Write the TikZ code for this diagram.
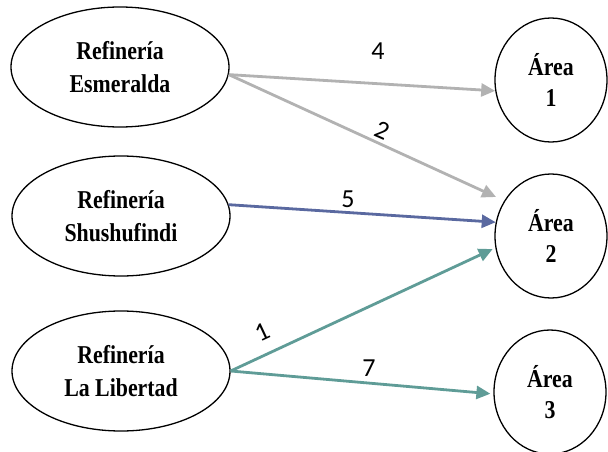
\documentclass[tikz,border=0pt]{standalone}
\usepackage{fontspec}
\setmainfont{Liberation Serif}[FakeStretch=0.85]
\newfontfamily\lblfont{Carlito}
\usetikzlibrary{shapes.geometric,arrows.meta}
\definecolor{cgray}{HTML}{B2B2B2}
\definecolor{cblue}{HTML}{5A69A0}
\definecolor{cteal}{HTML}{5F9C97}
\begin{document}
\begin{tikzpicture}[x=1pt,y=-1pt,
  refi/.style={draw=black, line width=1.3pt, ellipse, minimum width=218pt, minimum height=120pt, inner sep=0pt, align=center, font=\bfseries\fontsize{25.7}{33}\selectfont},
  area/.style={draw=black, line width=1.3pt, ellipse, minimum width=112pt, minimum height=124pt, inner sep=0pt, align=center, font=\bfseries\fontsize{25.7}{31}\selectfont},
  conn/.style={line width=2.8pt, -{Triangle[length=14pt,width=13pt]}},
  lbl/.style={font=\lblfont\fontsize{26}{26}\selectfont, inner sep=0pt}]
\useasboundingbox (0,0) rectangle (608,452);
\node[refi] (e1) at (120,67) {Refinería\\Esmeralda};
\node[refi] (e2) at (121,216) {Refinería\\Shushufindi};
\node[refi] (e3) at (121,371) {Refinería\\La Libertad};
\node[area] (a1) at (551,80) {Área\\1};
\node[area] (a2) at (551,236) {Área\\2};
\node[area] (a3) at (550,392) {Área\\3};
\draw[conn, cgray] (e1.-4) -- (a1.191);
\draw[conn, cgray, shorten >=9pt] (e1.-4) -- (a2.143);
\draw[conn, cblue] (e2.6) -- (a2.166);
\draw[conn, cteal, shorten >=3pt] (e3.east) -- (a2.192);
\draw[conn, cteal, shorten >=3pt] (e3.east) -- (a3.182);
\node[lbl] (l4) at (378,51) {4};
\node[lbl, rotate=-24] (l2) at (382,130) {2};
\node[lbl] (l5) at (348,199) {5};
\node[lbl, rotate=25] (l1) at (262,332) {1};
\node[lbl] (l7) at (369,368) {7};
\end{tikzpicture}
\end{document}
